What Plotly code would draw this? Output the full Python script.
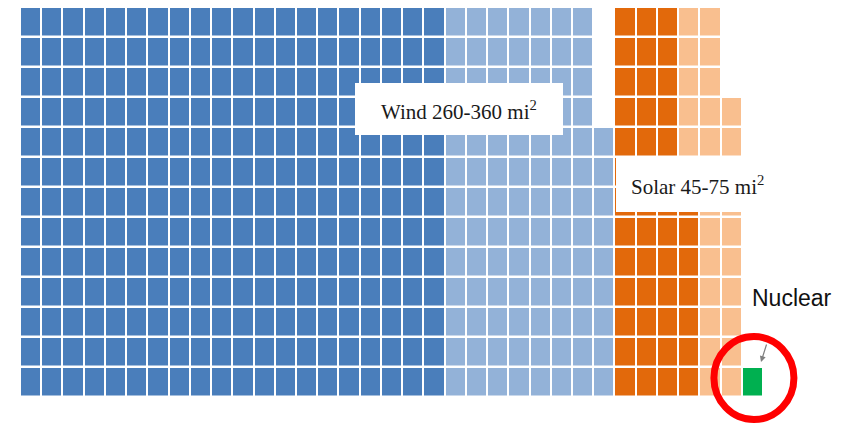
import numpy as np
import plotly.graph_objects as go

# Cells per row (top row first) for each land-area band
wind_low = [20, 20, 20, 20, 20, 20, 20, 20, 20, 20, 20, 20, 20]
wind_extra = [7, 7, 7, 7, 8, 8, 8, 8, 8, 8, 8, 8, 8]
solar_low = [3, 3, 3, 3, 3, 2, 4, 4, 4, 4, 4, 4, 4]
solar_extra = [2, 2, 2, 3, 3, 4, 2, 2, 2, 2, 2, 2, 2]
nuclear = [0, 0, 0, 0, 0, 0, 0, 0, 0, 0, 0, 0, 1]

labels = ["Wind 260-360 mi<sup>2</sup>", "Solar 45-75 mi<sup>2</sup>", "Nuclear"]
colors = ["#4A7EBB", "#93B2D8", "#E2690B", "#F9BF8F", "#00B050"]

# Grid geometry (pixels)
W, H = 848, 427
X0, Y0 = 20, 7          # top-left corner of the grid
CW, CH = 21.23, 30.0    # cell pitch
N_COLS = 35
SOLAR_COL = 28          # column where the solar block begins

n_rows = len(wind_low)
z = np.full((n_rows, N_COLS), np.nan)
for r in range(n_rows):
    c = 0
    for val, n in ((1, wind_low[r]), (2, wind_extra[r])):
        z[r, c:c + n] = val
        c += n
    c = SOLAR_COL
    for val, n in ((3, solar_low[r]), (4, solar_extra[r]), (5, nuclear[r])):
        z[r, c:c + n] = val
        c += n

scale = []
for i, col in enumerate(colors):
    scale += [[i / 5, col], [(i + 1) / 5, col]]


def px2x(px):
    return (px - X0) / CW - 0.5


def py2y(py):
    return (py - Y0) / CH - 0.5


fig = go.Figure(go.Heatmap(
    z=z,
    x=list(range(N_COLS)),
    y=list(range(n_rows)),
    colorscale=scale,
    zmin=0.5, zmax=5.5,
    showscale=False,
    xgap=2, ygap=2.5,
    hoverinfo="skip",
))

shapes = [
    dict(type="rect", x0=px2x(355), x1=px2x(563), y0=py2y(83), y1=py2y(135),
         fillcolor="white", line_width=0, layer="above"),
    dict(type="rect", x0=px2x(616), x1=px2x(780), y0=py2y(158), y1=py2y(212),
         fillcolor="white", line_width=0, layer="above"),
]

# Red ring around the single nuclear cell
nr = n_rows - 1
nc = SOLAR_COL + solar_low[nr] + solar_extra[nr]
rx, ry = 40 / CW, 41.5 / CH
cy = nr - 0.13
cx = nc + 0.07
shapes.append(dict(type="circle", x0=cx - rx, x1=cx + rx, y0=cy - ry, y1=cy + ry,
                   line=dict(color="#FF0000", width=7), layer="above"))

annotations = [
    dict(x=px2x(459), y=py2y(110), text=labels[0], showarrow=False,
         font=dict(family="Liberation Serif", size=21, color="#1a1a1a")),
    dict(x=px2x(697), y=py2y(185), text=labels[1], showarrow=False,
         font=dict(family="Liberation Serif", size=21, color="#1a1a1a")),
    dict(x=px2x(792), y=py2y(298), text=labels[2], showarrow=False,
         font=dict(family="Liberation Sans", size=23, color="#111111")),
    dict(x=px2x(761), y=py2y(362), ax=6, ay=-19, text="", showarrow=True,
         arrowhead=2, arrowsize=1, arrowwidth=1.2, arrowcolor="#808080"),
]

fig.update_layout(
    width=W, height=H,
    margin=dict(l=0, r=0, t=0, b=0),
    paper_bgcolor="white", plot_bgcolor="white",
    xaxis=dict(range=[px2x(0), px2x(W)], visible=False, fixedrange=True),
    yaxis=dict(range=[py2y(H), py2y(0)], visible=False, fixedrange=True),
    shapes=shapes,
    annotations=annotations,
    showlegend=False,
)

fig.write_html("out.html", config={"displayModeBar": False})
